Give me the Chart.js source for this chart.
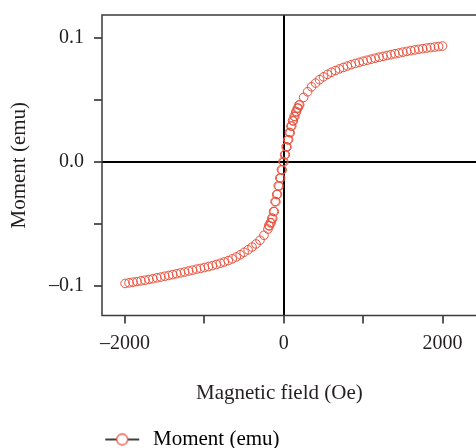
<!DOCTYPE html>
<html>
<head>
<meta charset="utf-8">
<script src="https://cdn.jsdelivr.net/npm/chart.js@4.4.1/dist/chart.umd.min.js"></script>
<style>
  html, body { margin: 0; padding: 0; background: #fff; }
  #wrap { width: 476px; height: 448px; overflow: hidden; }
</style>
</head>
<body>
<div id="wrap"><canvas id="chart" width="483" height="448"></canvas></div>
<script>
// Ascending sweep (Oe / emu)
var fieldSweepUp = [
  -2000, -1950, -1900, -1850, -1800, -1750, -1700, -1650, -1600, -1550,
  -1500, -1450, -1400, -1350, -1300, -1250, -1200, -1150, -1100, -1050,
  -1000, -950, -900, -850, -800, -750, -700, -650, -600, -550,
  -500, -450, -400, -350, -300, -250,
  -200, -180, -160, -140, -120, -100, -80, -60, -40, -20,
  0, 20, 40, 60, 80, 100, 120, 140, 160, 180, 200,
  250, 300, 350, 400, 450, 500, 550, 600, 650, 700,
  750, 800, 850, 900, 950, 1000, 1050, 1100, 1150, 1200,
  1250, 1300, 1350, 1400, 1450, 1500, 1550, 1600, 1650, 1700,
  1750, 1800, 1850, 1900, 1950, 2000
];
var momentSweepUp = [
  -0.0978, -0.0973, -0.0968, -0.0963, -0.0957, -0.0952, -0.0946, -0.0940, -0.0933, -0.0927,
  -0.0920, -0.0914, -0.0907, -0.0900, -0.0893, -0.0886, -0.0878, -0.0871, -0.0863, -0.0857,
  -0.0850, -0.0842, -0.0834, -0.0825, -0.0815, -0.0805, -0.0794, -0.0780, -0.0765, -0.0747,
  -0.0727, -0.0707, -0.0685, -0.0660, -0.0630, -0.0590,
  -0.0540, -0.0515, -0.0488, -0.0455, -0.0400, -0.0320, -0.0260, -0.0195, -0.0130, -0.0065,
  0.0000, 0.0060, 0.0120, 0.0180, 0.0235, 0.0290, 0.0330, 0.0365, 0.0405, 0.0435, 0.0460,
  0.0520, 0.0565, 0.0605, 0.0635, 0.0662, 0.0685, 0.0705, 0.0722, 0.0736, 0.0749,
  0.0761, 0.0772, 0.0783, 0.0793, 0.0802, 0.0811, 0.0819, 0.0827, 0.0835, 0.0843,
  0.0850, 0.0857, 0.0864, 0.0871, 0.0877, 0.0884, 0.0890, 0.0896, 0.0902, 0.0907,
  0.0912, 0.0917, 0.0921, 0.0925, 0.0929, 0.0933
];

// Return sweep near zero field (the doubled circles around the origin)
var fieldSweepDown = [190, 170, 150, 130, 110, 90, 70, 50, 30, 10,
  -10, -30, -50, -70, -90, -110, -130, -150, -170, -190];
var momentSweepDown = [0.0458, 0.0432, 0.0402, 0.0368, 0.0332, 0.0288, 0.0238, 0.0178, 0.0122, 0.0058,
  0.0004, -0.0062, -0.0128, -0.0192, -0.0262, -0.0318, -0.0398, -0.0452, -0.0490, -0.0512];

var xTickValues = [-2000, -1000, 0, 1000, 2000];
var xTickLabels = ['\u20132000', '', '0', '', '2000'];
var yTickValues = [-0.1, -0.05, 0, 0.05, 0.1];
var yTickLabels = ['\u20130.1', '', '0.0', '', '0.1'];

var seriesLabel = 'Moment (emu)';
var xTitle = 'Magnetic field (Oe)';
var yTitle = 'Moment (emu)';

var points = [];
fieldSweepUp.forEach(function (f, i) { points.push({ x: f, y: momentSweepUp[i] }); });
fieldSweepDown.forEach(function (f, i) { points.push({ x: f, y: momentSweepDown[i] }); });

var markerColor = '#e8503c';
var inkColor = '#231f20';

// legend icon: black line with a hollow red circle
var legendIcon = document.createElement('canvas');
legendIcon.width = 40;
legendIcon.height = 16;
(function () {
  var c = legendIcon.getContext('2d');
  c.strokeStyle = '#000';
  c.lineWidth = 1.5;
  c.beginPath();
  c.moveTo(2, 8);
  c.lineTo(36, 8);
  c.stroke();
  c.fillStyle = '#fff';
  c.strokeStyle = markerColor;
  c.lineWidth = 1.3;
  c.beginPath();
  c.arc(19, 8, 5.5, 0, Math.PI * 2);
  c.fill();
  c.stroke();
})();

// frame round the plot (left, top, bottom; right side runs off the page)
var framePlugin = {
  id: 'frame',
  afterDatasetsDraw: function (chart) {
    var a = chart.chartArea;
    var ctx = chart.ctx;
    ctx.save();
    ctx.strokeStyle = '#3a3a3a';
    ctx.lineWidth = 1.5;
    ctx.beginPath();
    ctx.moveTo(a.right + 2, a.top);
    ctx.lineTo(a.left, a.top);
    ctx.lineTo(a.left, a.bottom);
    ctx.lineTo(a.right + 2, a.bottom);
    ctx.stroke();
    ctx.restore();
  }
};

Chart.defaults.font.family = "'Liberation Serif', 'DejaVu Serif', serif";
Chart.defaults.font.size = 20;
Chart.defaults.color = inkColor;

function zeroLine(ctx) {
  return ctx.tick && ctx.tick.value === 0 ? '#000' : 'rgba(0,0,0,0)';
}

new Chart(document.getElementById('chart'), {
  type: 'scatter',
  data: {
    datasets: [{
      label: seriesLabel,
      data: points,
      pointRadius: 4.3,
      pointBorderWidth: 1,
      pointBorderColor: markerColor,
      pointBackgroundColor: 'rgba(255,255,255,0)',
      showLine: false
    }]
  },
  options: {
    responsive: false,
    animation: false,
    layout: { padding: { top: 15, right: 0, left: 0, bottom: -12 } },
    plugins: {
      tooltip: { enabled: false },
      legend: {
        position: 'bottom',
        align: 'start',
        fullSize: false,
        labels: {
          usePointStyle: true,
          pointStyleWidth: 38.5,
          padding: 2,
          color: inkColor,
          font: { size: 21 },
          generateLabels: function (chart) {
            return [{
              text: seriesLabel,
              pointStyle: legendIcon,
              fillStyle: '#fff',
              strokeStyle: markerColor,
              lineWidth: 0,
              hidden: false,
              datasetIndex: 0
            }];
          }
        }
      }
    },
    scales: {
      x: {
        type: 'linear',
        min: -2291,
        max: 2443,
        afterBuildTicks: function (scale) {
          scale.ticks = xTickValues.map(function (v) { return { value: v }; });
        },
        afterFit: function (scale) {
          scale.height = 111.5;
          scale.paddingLeft = 0;
          scale.paddingRight = 0;
        },
        border: { display: false },
        grid: {
          drawOnChartArea: true,
          color: zeroLine,
          lineWidth: 2,
          tickColor: '#222',
          tickWidth: 1.5,
          tickLength: 8
        },
        ticks: {
          autoSkip: false,
          maxRotation: 0,
          padding: 8,
          callback: function (value) {
            var i = xTickValues.indexOf(value);
            return i >= 0 ? xTickLabels[i] : '';
          }
        },
        title: {
          display: true,
          text: xTitle + '    ',
          font: { size: 21 },
          padding: { top: 0, bottom: 21 }
        }
      },
      y: {
        type: 'linear',
        min: -0.1236,
        max: 0.1183,
        afterBuildTicks: function (scale) {
          scale.ticks = yTickValues.map(function (v) { return { value: v }; });
        },
        afterFit: function (scale) {
          scale.width = 102;
          scale.paddingTop = 0;
          scale.paddingBottom = 0;
        },
        border: { display: false },
        grid: {
          drawOnChartArea: true,
          color: zeroLine,
          lineWidth: 2,
          tickColor: '#222',
          tickWidth: 1.5,
          tickLength: 8
        },
        ticks: {
          autoSkip: false,
          padding: 10,
          callback: function (value) {
            var i = yTickValues.indexOf(value);
            return i >= 0 ? yTickLabels[i] : '';
          }
        },
        title: {
          display: true,
          text: yTitle,
          font: { size: 21 },
          padding: { top: 6.5, bottom: 0 }
        }
      }
    }
  },
  plugins: [framePlugin]
});
</script>
</body>
</html>
